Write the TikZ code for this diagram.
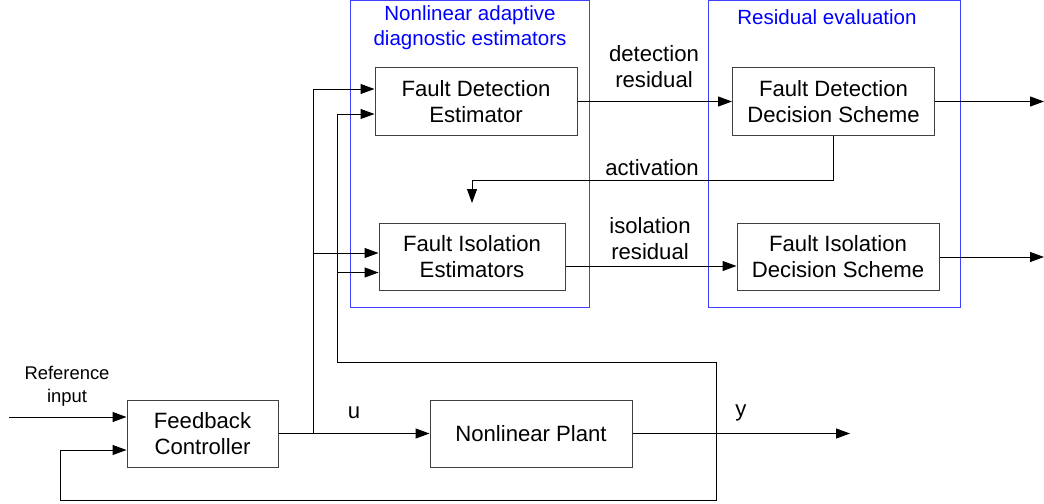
\documentclass[tikz,border=0pt]{standalone}
\usepackage{fontspec}
\setmainfont{Liberation Sans}
\usetikzlibrary{arrows.meta,calc}

\begin{document}
\begin{tikzpicture}[x=0.75pt,y=0.75pt,yscale=-1,xscale=1,
  blk/.style={draw={rgb, 255:red, 64; green, 64; blue, 64 },line width=0.75,minimum width=151.5pt,minimum height=50.25pt,inner sep=0pt,align=center,font=\fontsize{16.6}{19.5}\selectfont},
  lbl/.style={inner sep=0pt,align=center,font=\fontsize{16.6}{19.5}\selectfont},
  grp/.style={inner sep=0pt,align=center,text={rgb, 255:red, 0; green, 0; blue, 255 },font=\fontsize{15.4}{18.75}\selectfont},
  grpframe/.style={draw={rgb, 255:red, 64; green, 64; blue, 255 },line width=0.75},
  sig/.style={line width=0.75,-{Triangle[length=10.5pt,width=7.5pt]}},
  wire/.style={line width=0.75}]
\useasboundingbox (0,0) rectangle (1044,503);

%Group frames
\draw [grpframe] (350,1) rectangle (589,307) ;
\draw [grpframe] (708,1) rectangle (960,307) ;

%Blocks
\node [blk] (fde) at (476,101.5) {Fault Detection\\Estimator};
\node [blk,minimum width=139.5pt] (fie) at (472,257) {Fault Isolation\\Estimators};
\node [blk] (fdds) at (833.5,101.5) {Fault Detection\\Decision Scheme};
\node [blk] (fids) at (838,257) {Fault Isolation\\Decision Scheme};
\node [blk,minimum width=113.25pt] (fc) at (202.5,433.5) {Feedback\\Controller};
\node [blk] (np) at (531,433.5) {Nonlinear Plant};

%Points
\coordinate (refin) at (9,417) ;
\coordinate (ju) at (313,433.5) ;
\coordinate (jy) at (716,433.5) ;
\coordinate (yout) at (850,433.5) ;
\coordinate (fdout) at (1044,101.5) ;
\coordinate (fiout) at (1044,257) ;
\coordinate (act) at (472,203) ;
\coordinate (fbup) at (716,362) ;
\coordinate (fbdn) at (716,500) ;
\coordinate (fbx) at (337,362) ;
\coordinate (fbl) at (60,500) ;
\coordinate (fdein1) at ($(fde.west)+(0,-12.5)$) ;
\coordinate (fdein2) at ($(fde.west)+(0,12.5)$) ;
\coordinate (fiein1) at ($(fie.west)+(0,-4)$) ;
\coordinate (fiein2) at ($(fie.west)+(0,15.5)$) ;
\coordinate (fieout) at ($(fie.east)+(0,9)$) ;
\coordinate (fcin2) at ($(fc.west)+(0,16.5)$) ;

%Loop
\draw [sig] (refin) -- (refin -| fc.west) ;
\draw [sig] (fc.east) -- (np.west) ;
\draw [sig] (np.east) -- (yout) ;
\draw [sig] (jy) -- (fbdn) -| (fbl |- fcin2) -- (fcin2) ;

%Estimator inputs
\draw [sig] (ju) |- (fdein1) ;
\draw [sig] (ju |- fiein1) -- (fiein1) ;
\draw [sig] (jy) -- (fbup) -| (fbx |- fdein2) -- (fdein2) ;
\draw [sig] (fbx |- fiein2) -- (fiein2) ;

%Residuals
\draw [sig] (fde.east) -- (fdds.west) ;
\draw [sig] (fieout) -- (fieout -| fids.west) ;
\draw [sig] (fdds.east) -- (fdout) ;
\draw [sig] (fids.east) -- (fiout) ;
\draw [sig] (fdds.south) -- ++(0,45) -| (act) ;

% Text Node
\node [grp] (estlbl) at (470,28) {Nonlinear adaptive\\diagnostic estimators};
% Text Node
\node [grp] (evallbl) at (827,17) {Residual evaluation};
% Text Node
\node [lbl] (detlbl) at (654,66.5) {detection\\residual};
% Text Node
\node [lbl] (actlbl) at (652,168) {activation};
% Text Node
\node [lbl] (isolbl) at (650,239) {isolation\\residual};
% Text Node
\node [lbl,font=\fontsize{13.8}{17}\selectfont] (reflbl) at (67,386) {Reference\\input};
% Text Node
\node [lbl] (ulbl) at (354,413) {u};
% Text Node
\node [lbl] (ylbl) at (741,413) {y};

\end{tikzpicture}
\end{document}
